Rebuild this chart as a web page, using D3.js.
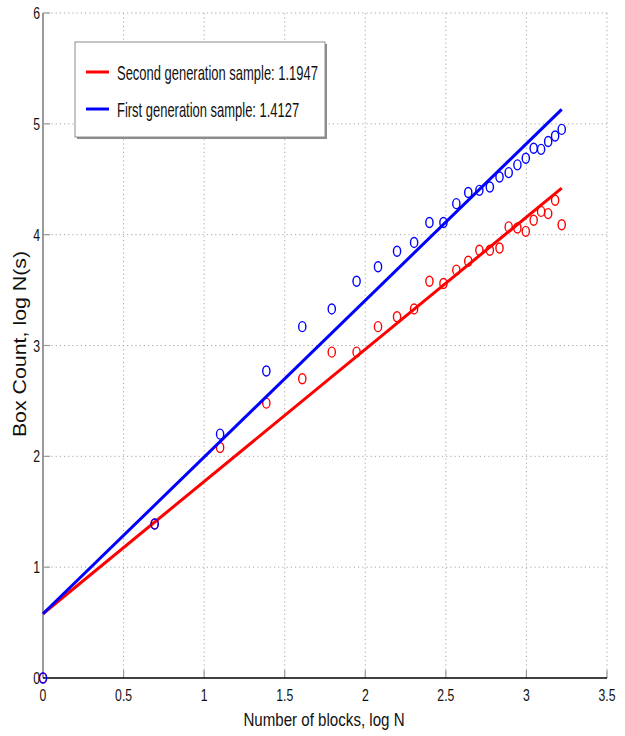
<!DOCTYPE html>
<html>
<head>
<meta charset="utf-8">
<script src="https://cdn.jsdelivr.net/npm/d3@7"></script>
<style>
  body { margin: 0; background: #fff; }
  text { font-family: "Liberation Sans", Arial, sans-serif; fill: #111; }
</style>
</head>
<body>
<div id="chart"></div>
<script>
// log N for N = 1..25 blocks
let logN = [0, 0.693, 1.099, 1.386, 1.609, 1.792, 1.946, 2.079, 2.197, 2.303,
            2.398, 2.485, 2.565, 2.639, 2.708, 2.773, 2.833, 2.890, 2.944, 2.996,
            3.045, 3.091, 3.135, 3.178, 3.219];

// box counts
let firstGen = [0, 1.39, 2.20, 2.77, 3.17, 3.33, 3.58, 3.71, 3.85, 3.93,
                4.11, 4.11, 4.28, 4.38, 4.40, 4.43, 4.52, 4.56, 4.63, 4.69,
                4.78, 4.77, 4.84, 4.89, 4.95];
let secondGen = [0, 1.39, 2.08, 2.48, 2.70, 2.94, 2.94, 3.17, 3.26, 3.33,
                 3.58, 3.56, 3.68, 3.76, 3.86, 3.86, 3.88, 4.07, 4.06, 4.03,
                 4.13, 4.21, 4.19, 4.31, 4.09];

// fitted lines (end points)
let fitX = [0, 3.219];
let firstFit = [0.58, 5.13];
let secondFit = [0.58, 4.42];

let legendLabels = ["Second generation sample: 1.1947", "First generation sample: 1.4127"];
let xTicks = [0, 0.5, 1, 1.5, 2, 2.5, 3, 3.5];
let yTicks = [0, 1, 2, 3, 4, 5, 6];

let width = 625, height = 736;

let svg = d3.select("#chart").append("svg")
    .attr("width", width)
    .attr("height", height);

let x = d3.scaleLinear().domain([0, 3.5]).range([43, 607]);
let y = d3.scaleLinear().domain([0, 6]).range([678, 13]);

// dotted grid
svg.append("g").selectAll("line")
    .data(xTicks.slice(1))
    .enter().append("line")
    .attr("x1", d => x(d)).attr("x2", d => x(d))
    .attr("y1", y(0)).attr("y2", y(6))
    .attr("stroke", "#a8a8a8")
    .attr("stroke-dasharray", "1.2,3");

svg.append("g").selectAll("line")
    .data(yTicks.slice(1))
    .enter().append("line")
    .attr("x1", x(0)).attr("x2", x(3.5))
    .attr("y1", d => y(d)).attr("y2", d => y(d))
    .attr("stroke", "#a8a8a8")
    .attr("stroke-dasharray", "1.2,3");

// inward tick marks
svg.append("g").selectAll("line")
    .data(xTicks.slice(1))
    .enter().append("line")
    .attr("x1", d => x(d)).attr("x2", d => x(d))
    .attr("y1", y(0)).attr("y2", y(0) - 8)
    .attr("stroke", "#999").attr("stroke-width", 1.2);

svg.append("g").selectAll("line")
    .data(yTicks.slice(1))
    .enter().append("line")
    .attr("x1", x(0)).attr("x2", x(0) + 7)
    .attr("y1", d => y(d)).attr("y2", d => y(d))
    .attr("stroke", "#999").attr("stroke-width", 1.2);

// axes lines
svg.append("line")
    .attr("x1", x(0)).attr("x2", x(0))
    .attr("y1", y(6)).attr("y2", y(0))
    .attr("stroke", "#9a9a9a").attr("stroke-width", 2);

svg.append("line")
    .attr("x1", x(0)).attr("x2", x(3.5))
    .attr("y1", y(0)).attr("y2", y(0))
    .attr("stroke", "#000").attr("stroke-width", 1.6);

// tick labels (the picture is squeezed sideways, so squeeze the text too)
svg.append("g").selectAll("text")
    .data(xTicks)
    .enter().append("text")
    .attr("transform", d => `translate(${x(d)},701) scale(0.72,1)`)
    .attr("text-anchor", "middle")
    .style("font-size", "17px")
    .text(d => d);

svg.append("g").selectAll("text")
    .data(yTicks)
    .enter().append("text")
    .attr("transform", d => `translate(40,${y(d) + 6}) scale(0.72,1)`)
    .attr("text-anchor", "end")
    .style("font-size", "17px")
    .text(d => d);

// axis titles
svg.append("text")
    .attr("transform", "translate(324,726) scale(0.84,1)")
    .attr("text-anchor", "middle")
    .style("font-size", "18px")
    .text("Number of blocks, log N");

svg.append("text")
    .attr("transform", "translate(26,344) rotate(-90) scale(1.22,1)")
    .attr("text-anchor", "middle")
    .style("font-size", "17.5px")
    .text("Box Count, log N(s)");

// series: markers + fit line
let series = [
    { values: secondGen, fit: secondFit, color: "#ff0000" },
    { values: firstGen, fit: firstFit, color: "#0000ff" }
];

let line = d3.line()
    .x(d => x(d[0]))
    .y(d => y(d[1]));

series.forEach(function(s) {
    svg.append("g").selectAll("ellipse")
        .data(logN.map((d, i) => [d, s.values[i]]))
        .enter().append("ellipse")
        .attr("cx", d => x(d[0]))
        .attr("cy", d => y(d[1]))
        .attr("rx", 3.6)
        .attr("ry", 5)
        .attr("fill", "none")
        .attr("stroke", s.color)
        .attr("stroke-width", 1.4);

    svg.append("path")
        .datum(fitX.map((d, i) => [d, s.fit[i]]))
        .attr("d", line)
        .attr("fill", "none")
        .attr("stroke", s.color)
        .attr("stroke-width", 3);
});

// legend
let legend = svg.append("g").attr("class", "legend");

legend.append("rect")
    .attr("x", 77).attr("y", 44)
    .attr("width", 250).attr("height", 95)
    .attr("fill", "#8c8c8c");

legend.append("rect")
    .attr("x", 75).attr("y", 42)
    .attr("width", 250).attr("height", 95)
    .attr("fill", "#fff")
    .attr("stroke", "#8c8c8c")
    .attr("stroke-width", 1);

legendLabels.forEach(function(label, i) {
    let ly = 72 + i * 37;
    legend.append("line")
        .attr("x1", 86).attr("x2", 109)
        .attr("y1", ly).attr("y2", ly)
        .attr("stroke", series[i].color)
        .attr("stroke-width", 3);
    legend.append("text")
        .attr("transform", `translate(117,${ly + 8}) scale(0.648,1)`)
        .style("font-size", "20px")
        .text(label);
});
</script>
</body>
</html>
